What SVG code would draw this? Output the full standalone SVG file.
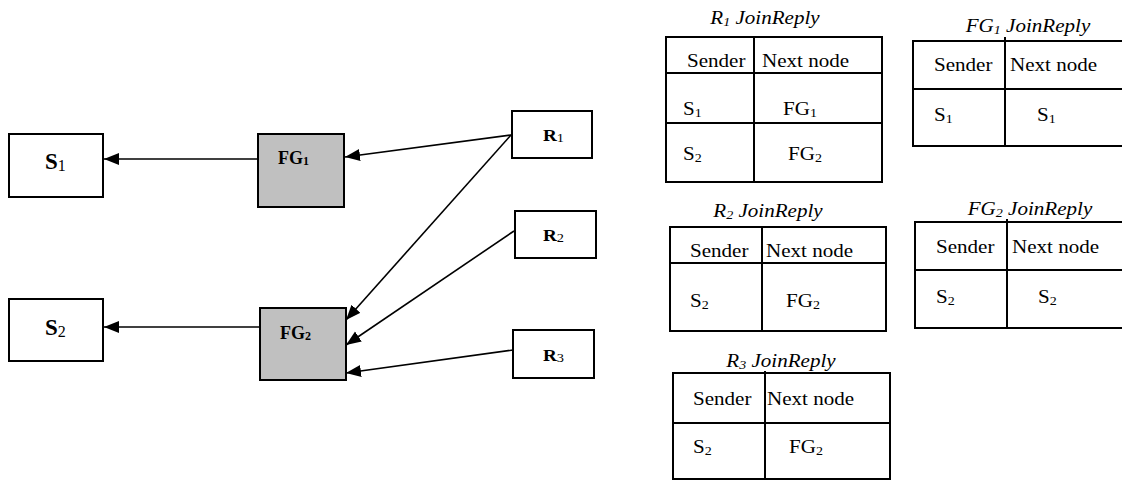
<svg xmlns="http://www.w3.org/2000/svg" width="1122" height="481" viewBox="0 0 1122 481">
  <style>
    .box { fill: #ffffff; stroke: #000000; stroke-width: 2; }
    .fg { fill: #c0c0c0; stroke: #000000; stroke-width: 2; }
    .edge { stroke: #000000; stroke-width: 1.6; fill: none; marker-end: url(#head); }
    .grid { stroke: #000000; stroke-width: 2; fill: none; }
    text { font-family: 'Liberation Serif', 'Times New Roman', serif; fill: #000000; }
    .lbl { font-weight: bold; }
    .cell { font-size: 18px; }
    .title { font-size: 18px; font-style: italic; }
    .sub { font-size: 12px; font-weight: normal; }
  </style>
  <defs>
    <marker id="head" markerUnits="userSpaceOnUse" markerWidth="16" markerHeight="13" refX="15" refY="6" orient="auto">
      <path d="M0,0 L15,6 L0,12 Z" fill="#000000"/>
    </marker>
  </defs>
  <rect width="1122" height="481" fill="#ffffff"/>

  <!-- connectors -->
  <g id="connectors">
    <line class="edge" x1="258" y1="159" x2="104" y2="159"/>
    <line class="edge" x1="260" y1="327" x2="104" y2="327"/>
    <line class="edge" x1="511" y1="135" x2="345" y2="157"/>
    <line class="edge" x1="511" y1="135" x2="346" y2="320"/>
    <line class="edge" x1="514" y1="231" x2="346" y2="345"/>
    <line class="edge" x1="513" y1="350" x2="346" y2="373"/>
  </g>

  <!-- sources -->
  <g id="S1">
    <rect class="box" x="9" y="134" width="94" height="63"/>
    <text class="lbl" x="45" y="169" font-size="23">S<tspan font-size="16" font-weight="normal" dy="2">1</tspan></text>
  </g>
  <g id="S2">
    <rect class="box" x="9" y="299" width="94" height="62"/>
    <text class="lbl" x="45" y="335" font-size="23">S<tspan font-size="16" font-weight="normal" dy="2">2</tspan></text>
  </g>

  <!-- forwarding group nodes -->
  <g id="FG1">
    <rect class="fg" x="258" y="134" width="86" height="73"/>
    <text class="lbl" x="278" y="164" font-size="18">FG<tspan font-size="12" dy="1">1</tspan></text>
  </g>
  <g id="FG2">
    <rect class="fg" x="260" y="308" width="86" height="72"/>
    <text class="lbl" x="280" y="339" font-size="18">FG<tspan font-size="12" dy="1">2</tspan></text>
  </g>

  <!-- receivers -->
  <g id="R1">
    <rect class="box" x="512" y="111" width="80" height="47"/>
    <text class="lbl" transform="translate(543,141) scale(1.2,1)" font-size="16">R<tspan class="sub" dy="1">1</tspan></text>
  </g>
  <g id="R2">
    <rect class="box" x="515" y="211" width="81" height="47"/>
    <text class="lbl" transform="translate(543,241) scale(1.2,1)" font-size="16">R<tspan class="sub" dy="1">2</tspan></text>
  </g>
  <g id="R3">
    <rect class="box" x="513" y="330" width="81" height="48"/>
    <text class="lbl" transform="translate(543,361) scale(1.2,1)" font-size="16">R<tspan class="sub" dy="1">3</tspan></text>
  </g>

  <!-- R1 JoinReply table -->
  <g id="table-R1">
    <text class="title" text-anchor="middle" transform="translate(765,24) scale(1.17,1)">R<tspan class="sub" dy="2">1</tspan><tspan dy="-2"> JoinReply</tspan></text>
    <rect class="grid" x="666" y="37" width="216" height="145"/>
    <line class="grid" x1="754" y1="37" x2="754" y2="182"/>
    <line class="grid" x1="666" y1="73" x2="882" y2="73"/>
    <line class="grid" x1="666" y1="123" x2="882" y2="123"/>
    <text class="cell" transform="translate(687,67) scale(1.17,1)">Sender</text>
    <text class="cell" transform="translate(762,67) scale(1.17,1)">Next node</text>
    <text class="cell" transform="translate(683,115) scale(1.17,1)">S<tspan class="sub" dy="2">1</tspan></text>
    <text class="cell" transform="translate(783,115) scale(1.17,1)">FG<tspan class="sub" dy="2">1</tspan></text>
    <text class="cell" transform="translate(683,160) scale(1.17,1)">S<tspan class="sub" dy="2">2</tspan></text>
    <text class="cell" transform="translate(788,160) scale(1.17,1)">FG<tspan class="sub" dy="2">2</tspan></text>
  </g>

  <!-- FG1 JoinReply table (runs off the right edge) -->
  <g id="table-FG1">
    <text class="title" text-anchor="middle" transform="translate(1028,32) scale(1.17,1)">FG<tspan class="sub" dy="2">1</tspan><tspan dy="-2"> JoinReply</tspan></text>
    <polyline class="grid" points="1124,41 913,41 913,146 1124,146"/>
    <line class="grid" x1="1005" y1="37" x2="1005" y2="146"/>
    <line class="grid" x1="913" y1="89" x2="1124" y2="89"/>
    <text class="cell" transform="translate(934,71) scale(1.17,1)">Sender</text>
    <text class="cell" transform="translate(1010,71) scale(1.17,1)">Next node</text>
    <text class="cell" transform="translate(934,121) scale(1.17,1)">S<tspan class="sub" dy="2">1</tspan></text>
    <text class="cell" transform="translate(1037,121) scale(1.17,1)">S<tspan class="sub" dy="2">1</tspan></text>
  </g>

  <!-- R2 JoinReply table -->
  <g id="table-R2">
    <text class="title" text-anchor="middle" transform="translate(768,217) scale(1.17,1)">R<tspan class="sub" dy="2">2</tspan><tspan dy="-2"> JoinReply</tspan></text>
    <rect class="grid" x="670" y="227" width="216" height="104"/>
    <line class="grid" x1="762" y1="227" x2="762" y2="331"/>
    <line class="grid" x1="670" y1="263" x2="886" y2="263"/>
    <text class="cell" transform="translate(690,257) scale(1.17,1)">Sender</text>
    <text class="cell" transform="translate(766,257) scale(1.17,1)">Next node</text>
    <text class="cell" transform="translate(690,307) scale(1.17,1)">S<tspan class="sub" dy="2">2</tspan></text>
    <text class="cell" transform="translate(786,307) scale(1.17,1)">FG<tspan class="sub" dy="2">2</tspan></text>
  </g>

  <!-- FG2 JoinReply table (runs off the right edge) -->
  <g id="table-FG2">
    <text class="title" text-anchor="middle" transform="translate(1030,215) scale(1.17,1)">FG<tspan class="sub" dy="2">2</tspan><tspan dy="-2"> JoinReply</tspan></text>
    <polyline class="grid" points="1124,222 915,222 915,328 1124,328"/>
    <line class="grid" x1="1007" y1="219" x2="1007" y2="328"/>
    <line class="grid" x1="915" y1="270" x2="1124" y2="270"/>
    <text class="cell" transform="translate(936,253) scale(1.17,1)">Sender</text>
    <text class="cell" transform="translate(1012,253) scale(1.17,1)">Next node</text>
    <text class="cell" transform="translate(936,303) scale(1.17,1)">S<tspan class="sub" dy="2">2</tspan></text>
    <text class="cell" transform="translate(1038,303) scale(1.17,1)">S<tspan class="sub" dy="2">2</tspan></text>
  </g>

  <!-- R3 JoinReply table -->
  <g id="table-R3">
    <text class="title" text-anchor="middle" transform="translate(781,367) scale(1.17,1)">R<tspan class="sub" dy="2">3</tspan><tspan dy="-2"> JoinReply</tspan></text>
    <rect class="grid" x="673" y="373" width="217" height="106"/>
    <line class="grid" x1="765" y1="371" x2="765" y2="479"/>
    <line class="grid" x1="673" y1="423" x2="890" y2="423"/>
    <text class="cell" transform="translate(693,405) scale(1.17,1)">Sender</text>
    <text class="cell" transform="translate(767,405) scale(1.17,1)">Next node</text>
    <text class="cell" transform="translate(693,453) scale(1.17,1)">S<tspan class="sub" dy="2">2</tspan></text>
    <text class="cell" transform="translate(789,453) scale(1.17,1)">FG<tspan class="sub" dy="2">2</tspan></text>
  </g>
</svg>
